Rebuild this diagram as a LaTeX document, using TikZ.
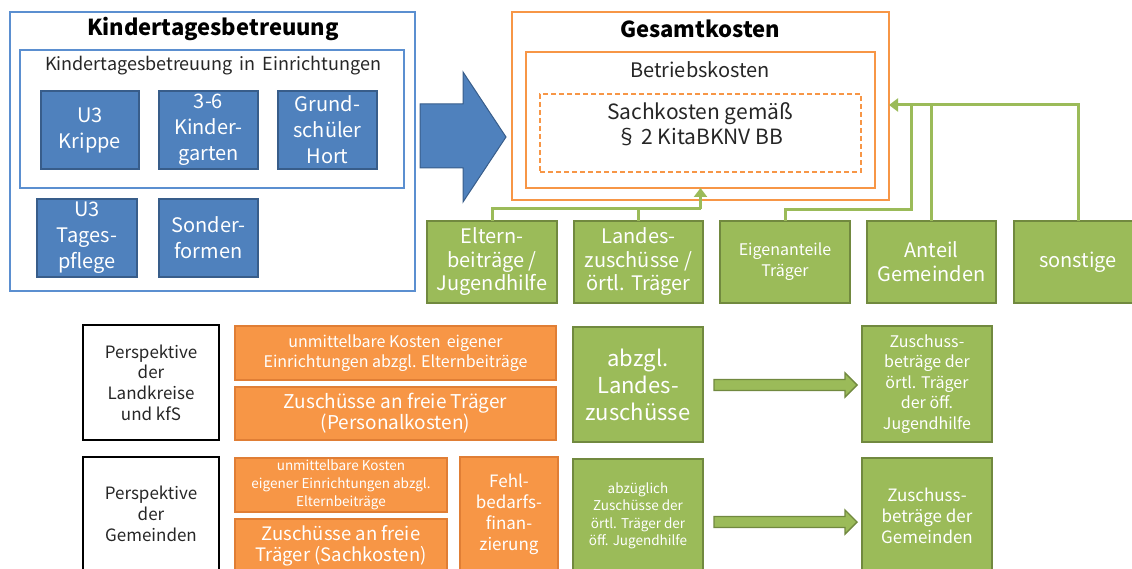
\documentclass[tikz,border=0pt]{standalone}
\usepackage{fontspec}
\setmainfont{Noto Sans CJK JP}
\usetikzlibrary{arrows.meta}
\definecolor{kblue}{HTML}{4F81BD}
\definecolor{kbluedark}{HTML}{385D8A}
\definecolor{kblueline}{HTML}{5B8FD0}
\definecolor{korange}{HTML}{F79646}
\definecolor{korangedark}{HTML}{E07E35}
\definecolor{kgreen}{HTML}{9BBB59}
\definecolor{kgreendark}{HTML}{71893F}
\definecolor{ktext}{HTML}{262626}
\begin{document}
\begin{tikzpicture}[x=1pt,y=-1pt,
  every node/.style={inner sep=0pt, outer sep=0pt, align=center, text=ktext},
  frameblue/.style={draw=kblueline, line width=2pt},
  frameorange/.style={draw=korange, line width=2pt},
  bluebox/.style={draw=kbluedark, fill=kblue, line width=1.6pt, text=white, font=\fontsize{20}{26}\selectfont},
  greenbox/.style={draw=kgreendark, fill=kgreen, line width=1.6pt, text=white},
  orangebox/.style={draw=korangedark, fill=korange, line width=1.4pt, text=white},
  persp/.style={draw=black, line width=2.4pt, font=\fontsize{17}{20.7}\selectfont},
  gline/.style={draw=kgreen, line width=3pt},
  garrow/.style={gline, -{Triangle[length=9pt,width=13pt]}},
  blockarrow/.style={fill=kgreen, draw=kgreendark, line width=1.4pt}
]
\useasboundingbox (0,0) rectangle (1132,569);
\clip (0,0) rectangle (1132,569);

% ---------- Kindertagesbetreuung ----------
\node[frameblue, minimum width=405pt, minimum height=279pt] (kita) at (212.5,151.5) {};
\node[font=\bfseries\fontsize{22}{26}\selectfont, text=black] (kitat) at (213,29) {Kindertagesbetreuung};
\node[frameblue, minimum width=384pt, minimum height=138pt] (einr) at (212,119) {};
\node[font=\fontsize{18}{22}\selectfont] (einrt) at (213,66) {Kindertagesbetreuung\, in\, Einrichtungen};
\node[bluebox, minimum width=98pt, minimum height=78pt] (krippe) at (90,130) {U3\\Krippe};
\node[bluebox, minimum width=99pt, minimum height=78pt] (kiga) at (208.5,130) {3-6\\Kinder-\\garten};
\node[bluebox, minimum width=99pt, minimum height=78pt] (hort) at (327.5,130) {Grund-\\schüler\\Hort};
\node[bluebox, minimum width=100pt, minimum height=78pt] (tpflege) at (87,238) {U3\\Tages-\\pflege};
\node[bluebox, minimum width=99pt, minimum height=78pt] (sonder) at (208.5,238) {Sonder-\\formen};

% big blue arrow
\draw[fill=kblue, draw=kbluedark, line width=1pt]
  (420,104) -- (463,104) -- (463,72) -- (506,137) -- (463,202) -- (463,168) -- (420,168) -- cycle;

% ---------- Gesamtkosten ----------
\node[frameorange, minimum width=377pt, minimum height=188pt] (gk) at (700.5,106) {};
\node[font=\bfseries\fontsize{22}{26}\selectfont, text=black] (gkt) at (700,29) {Gesamtkosten};
\node[frameorange, minimum width=349pt, minimum height=136pt] (betr) at (700.5,120) {};
\node[font=\fontsize{20}{24}\selectfont] (betrt) at (700,70) {Betriebskosten};
\node[draw=korange, line width=1.6pt, dash pattern=on 5pt off 3pt, minimum width=321pt, minimum height=78pt] (sach) at (700.5,133) {};
\node[font=\fontsize{21}{25}\selectfont] (sacht) at (700,124.5) {Sachkosten gemäß\\§\,2 KitaBKNV BB};

% ---------- green funding boxes ----------
\node[greenbox, minimum width=130pt, minimum height=82pt, font=\fontsize{20}{23.5}\selectfont] (eltern) at (492,262) {Eltern-\\beiträge /\\Jugendhilfe};
\node[greenbox, minimum width=129pt, minimum height=82pt, font=\fontsize{20}{23.5}\selectfont] (landes) at (638.5,262) {Landes-\\zuschüsse /\\örtl. Träger};
\node[greenbox, minimum width=130pt, minimum height=82pt, font=\fontsize{16}{21}\selectfont] (eigen) at (785,262) {Eigenanteile\\Träger};
\node[greenbox, minimum width=129pt, minimum height=82pt, font=\fontsize{20}{24}\selectfont] (anteil) at (931.5,262) {Anteil\\Gemeinden};
\node[greenbox, minimum width=128pt, minimum height=82pt, font=\fontsize{20}{24}\selectfont] (sonst) at (1078,262) {sonstige};

% connectors
\coordinate (j1) at (700.5,209);
\coordinate (j2) at (911,105);
\draw[gline] (eltern.north) |- (j1);
\draw[gline] (landes.north) |- (j1);
\draw[garrow] (j1) -- (betr.south);
\draw[gline] (eigen.north) |- (911,210) -- (j2);
\draw[gline] (anteil.north) -- (anteil.north |- j2);
\draw[garrow] (sonst.north) |- (gk.east |- j2);

% ---------- Perspektive der Landkreise ----------
\node[persp, minimum width=136pt, minimum height=115pt] (p1) at (151,382.5) {Perspektive\\der\\Landkreise\\und kfS};
\node[orangebox, minimum width=321pt, minimum height=54pt, font=\fontsize{16}{20}\selectfont] (o1) at (395.5,353) {unmittelbare Kosten\, eigener\\Einrichtungen abzgl. Elternbeiträge};
\node[orangebox, minimum width=321pt, minimum height=53pt, font=\fontsize{19}{21}\selectfont] (o2) at (395.5,413.5) {Zuschüsse an freie Träger\\(Personalkosten)};
\node[greenbox, minimum width=130pt, minimum height=115pt, font=\fontsize{22}{27}\selectfont] (g1) at (638,384.5) {abzgl.\\Landes-\\zuschüsse};
\node[greenbox, minimum width=130pt, minimum height=116pt, font=\fontsize{16}{20.5}\selectfont] (g2) at (927,384) {Zuschuss-\\beträge der\\örtl. Träger\\der öff.\\Jugendhilfe};
\draw[blockarrow] (714,379.5) -- (845,379.5) -- (845,373) -- (857,385) -- (845,397) -- (845,390.5) -- (714,390.5) -- cycle;

% ---------- Perspektive der Gemeinden ----------
\node[persp, minimum width=136pt, minimum height=143pt] (p2) at (151,528.5) {};
\node[font=\fontsize{17}{20.7}\selectfont] (p2t) at (151,514) {Perspektive\\der\\Gemeinden};
\node[orangebox, minimum width=212pt, minimum height=54pt, font=\fontsize{13.5}{18}\selectfont] (o3) at (341,485) {unmittelbare Kosten\\eigener Einrichtungen abzgl.\\Elternbeiträge};
\node[orangebox, minimum width=212pt, minimum height=81pt] (o4) at (341,559.5) {};
\node[font=\fontsize{18.5}{21}\selectfont, text=white] (o4t) at (341,545.5) {Zuschüsse an freie\\Träger (Sachkosten)};
\node[orangebox, minimum width=98pt, minimum height=143pt] (o5) at (509,528.5) {};
\node[font=\fontsize{17}{21}\selectfont, text=white] (o5t) at (509,514.5) {Fehl-\\bedarfs-\\finan-\\zierung};
\node[greenbox, minimum width=130pt, minimum height=141pt] (g3) at (638,529.5) {};
\node[font=\fontsize{13.5}{17.5}\selectfont, text=white] (g3t) at (638,516) {abzüglich\\Zuschüsse der\\örtl. Träger der\\öff. Jugendhilfe};
\node[greenbox, minimum width=130pt, minimum height=142pt] (g4) at (927,529) {};
\node[font=\fontsize{17}{21}\selectfont, text=white] (g4t) at (927,516) {Zuschuss-\\beträge der\\Gemeinden};
\draw[blockarrow] (714,516.5) -- (845,516.5) -- (845,510) -- (857,522) -- (845,534) -- (845,527.5) -- (714,527.5) -- cycle;
\end{tikzpicture}
\end{document}
